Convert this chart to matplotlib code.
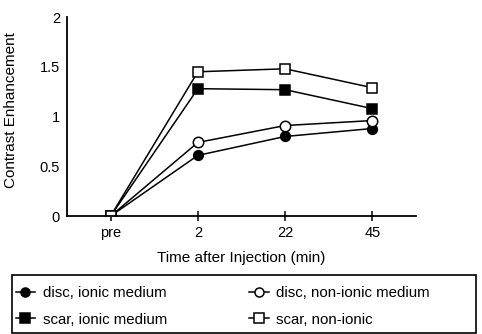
import numpy as np
import matplotlib.pyplot as plt
from matplotlib.patches import Rectangle

plt.rcParams['font.family'] = ['Liberation Sans', 'DejaVu Sans']

times = ["pre", "2", "22", "45"]
disc_ionic = [0.0, 0.61, 0.80, 0.88]
disc_nonionic = [0.0, 0.74, 0.91, 0.96]
scar_ionic = [0.0, 1.28, 1.27, 1.08]
scar_nonionic = [0.0, 1.45, 1.48, 1.29]

fig = plt.figure(figsize=(4.82, 3.34), dpi=100)
ax = fig.add_axes([0.139, 0.353, 0.724, 0.596])

x = np.arange(len(times))
style = dict(color='black', linewidth=1.1, markeredgecolor='black', markeredgewidth=1.1)
h1, = ax.plot(x, disc_ionic, marker='o', markersize=7, markerfacecolor='black', label='disc, ionic medium', **style)
h3, = ax.plot(x, disc_nonionic, marker='o', markersize=7.5, markerfacecolor='white', label='disc, non-ionic medium', **style)
h2, = ax.plot(x, scar_ionic, marker='s', markersize=7.5, markerfacecolor='black', label='scar, ionic medium', **style)
h4, = ax.plot(x, scar_nonionic, marker='s', markersize=7.5, markerfacecolor='white', label='scar, non-ionic', **style)

ax.set_xlim(-0.5, 3.5)
ax.set_ylim(0, 2)
ax.set_yticks([0, 0.5, 1, 1.5, 2])
ax.set_yticklabels(["0", "0.5", "1", "1.5", "2"])
ax.set_xticks(x)
ax.set_xticklabels(times)
ax.tick_params(axis='y', length=0, labelsize=10.5, pad=5)
ax.tick_params(axis='x', direction='inout', length=7.5, width=1.1, labelsize=10.5, pad=3.5)
for s in ['top', 'right']:
    ax.spines[s].set_visible(False)
for s in ['left', 'bottom']:
    ax.spines[s].set_linewidth(1.3)
ax.set_xlabel("Time after Injection (min)", fontsize=11, labelpad=8)
ax.set_ylabel("Contrast Enhancement", fontsize=11)
ax.yaxis.set_label_coords(-0.14, 0.533)

# legend frame spans the full width
fig.patches.append(Rectangle((12 / 482, 1 / 334), 464 / 482, 58 / 334, transform=fig.transFigure,
                             fill=False, edgecolor='black', linewidth=1.2))

leg = fig.legend(handles=[h1, h2, h3, h4], ncol=2, loc='upper left',
                 bbox_to_anchor=(0.026, 0.153), fontsize=10.8, frameon=False,
                 handlelength=1.3, handletextpad=0.5, borderaxespad=0,
                 labelspacing=0.85, columnspacing=5.5, borderpad=0.2)
for h in leg.legend_handles:
    h.set_markersize(6.5)

fig.savefig("out.png", dpi=100)
